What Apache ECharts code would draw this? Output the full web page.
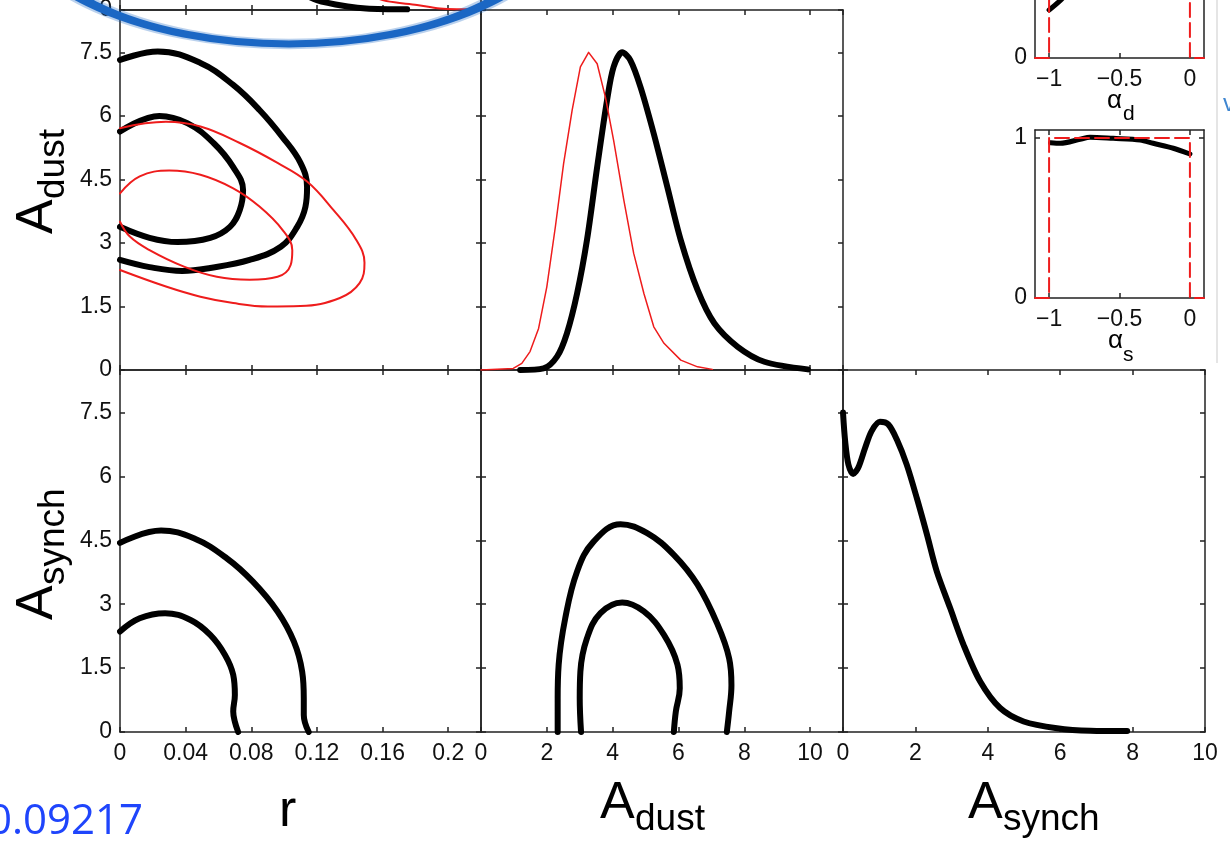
<meta charset="utf-8">
<script src="https://cdn.jsdelivr.net/npm/echarts@6/dist/echarts.min.js"></script>
<div id="main" style="position:absolute;left:0;top:0;width:1230px;height:850px"></div>
<script>
// r 1D posterior (only the tail is visible, panel sits above the picture)
const rTailBlack = [[0.105,0.07],[0.12,0.031],[0.14,0.010],[0.15,0.005],[0.175,0.002]]
const rTailRed = [[0.145,0.07],[0.16,0.031],[0.181,0.016],[0.195,0.005],[0.22,0.002]]

// r vs A_dust contours
const rDustOuter = [[0,7.32],[0.023,7.52],[0.049,7.25],[0.069,6.73],[0.085,6.14],[0.099,5.50],[0.110,4.89],[0.114,4.32],[0.113,3.85],[0.108,3.38],[0.098,2.91],[0.079,2.60],[0.055,2.41],[0.038,2.34],[0.018,2.43],[0,2.60]]
const rDustInner = [[0,5.63],[0.024,6.00],[0.041,5.83],[0.057,5.36],[0.069,4.79],[0.075,4.25],[0.073,3.78],[0.067,3.38],[0.055,3.12],[0.035,3.02],[0.018,3.12],[0,3.38]]
const rDustOuterRed = [[0,5.71],[0.028,5.86],[0.049,5.75],[0.073,5.36],[0.096,4.89],[0.114,4.45],[0.130,3.78],[0.144,3.07],[0.149,2.53],[0.146,2.05],[0.134,1.70],[0.110,1.51],[0.090,1.50],[0.069,1.58],[0.049,1.73],[0.028,1.97],[0,2.36]]
const rDustInnerRed = [[0,4.17],[0.012,4.57],[0.030,4.71],[0.049,4.61],[0.069,4.29],[0.085,3.86],[0.099,3.31],[0.105,2.83],[0.104,2.48],[0.096,2.20],[0.079,2.13],[0.059,2.20],[0.039,2.44],[0.018,2.83],[0.006,3.15],[0,3.50]]

// A_dust 1D
const adustPdf = [[1.19,0],[1.90,0.005],[2.31,0.042],[2.61,0.115],[2.92,0.241],[3.22,0.409],[3.53,0.639],[3.83,0.849],[4.03,0.954],[4.29,1.0],[4.54,0.975],[4.85,0.890],[5.25,0.744],[5.66,0.577],[6.07,0.409],[6.58,0.252],[7.09,0.147],[7.80,0.073],[8.61,0.026],[9.93,0.002]]
const adustPdfRed = [[0,0],[0.98,0.005],[1.24,0.021],[1.49,0.058],[1.75,0.131],[2.00,0.262],[2.26,0.451],[2.51,0.650],[2.77,0.818],[3.02,0.954],[3.27,1.0],[3.53,0.964],[3.78,0.859],[4.03,0.723],[4.34,0.535],[4.64,0.367],[4.95,0.241],[5.25,0.136],[5.56,0.084],[6.07,0.031],[6.58,0.010],[7.03,0.002]]

// r vs A_synch contours
const rSynchOuter = [[0,4.44],[0.025,4.73],[0.045,4.55],[0.065,4.08],[0.081,3.53],[0.096,2.83],[0.106,2.12],[0.111,1.42],[0.112,0.79],[0.112,0.40],[0.115,0]]
const rSynchInner = [[0,2.36],[0.012,2.67],[0.0275,2.79],[0.043,2.63],[0.055,2.28],[0.064,1.81],[0.069,1.34],[0.070,0.87],[0.069,0.48],[0.070,0.24],[0.072,0]]

// A_dust vs A_synch contours
const dustSynchOuter = [[2.33,0],[2.33,0.79],[2.36,1.58],[2.56,2.67],[2.92,3.77],[3.42,4.47],[4.24,4.88],[5.05,4.67],[5.86,4.16],[6.58,3.46],[7.19,2.52],[7.54,1.73],[7.61,1.10],[7.54,0.48],[7.47,0]]
const dustSynchInner = [[3.04,0],[3.00,0.79],[3.02,1.42],[3.22,2.20],[3.63,2.79],[4.29,3.04],[4.95,2.83],[5.56,2.28],[5.97,1.58],[6.04,1.03],[5.92,0.48],[5.86,0]]

// A_synch 1D
const asynchPdf = [[0,1.0],[0.06,0.91],[0.15,0.837],[0.28,0.808],[0.42,0.827],[0.61,0.889],[0.79,0.942],[1.02,0.971],[1.25,0.963],[1.49,0.915],[1.76,0.837],[2.04,0.732],[2.32,0.618],[2.59,0.503],[2.96,0.388],[3.33,0.273],[3.79,0.158],[4.34,0.075],[4.99,0.033],[5.91,0.012],[6.83,0.004],[7.85,0.003]]

// spectral indices insets
const alphaDPdf = [[-1,0.30],[-0.92,0.36],[-0.8,0.47]]
const alphaSPdf = [[-0.99,0.971],[-0.92,0.967],[-0.78,0.992],[-0.71,1.005],[-0.545,0.998],[-0.353,0.988],[-0.261,0.967],[-0.118,0.936],[0,0.90]]
const alphaPrior = [[-1.1,0],[-1,0],[-1,1],[0,1],[0,0],[0.1,0]]

const rTicks = 0.04, dustTicks = 2, ampTicks = 1.5
const alphaTicks = [-1, -0.5, 0]

const FONT = 'Liberation Sans'
const INK = '#111'
const RED = '#ee1c1c'
const AXL = {color: '#222', width: 1.5}
const N1 = 8.5 / 7.5   // 1D panels: peak of 1 sits on the 7.5 tick

const P = [
  {g: [120, -351, 361, 361], x: [0, 0.22, rTicks], y: [0, N1, 0.2], yl: {customValues: [0], margin: 8, showMaxLabel: true}},
  {g: [120, 10, 361, 360], x: [0, 0.22, rTicks], y: [0, 8.5, ampTicks], yl: {margin: 8}},
  {g: [481, 10, 362, 360], x: [0, 11, dustTicks], y: [0, N1, 0.2]},
  {g: [120, 370, 361, 362], x: [0, 0.22, rTicks], y: [0, 8.5, ampTicks], xl: {}, yl: {margin: 8}},
  {g: [481, 370, 362, 362], x: [0, 11, dustTicks], y: [0, 8.5, ampTicks], xl: {}},
  {g: [843, 370, 362, 362], x: [0, 10, dustTicks], y: [0, N1, 0.2], xl: {showMaxLabel: true}},
  {g: [1035, -110, 169, 168], x: [-1.1, 0.1], y: [0, 1.05], xc: alphaTicks, yc: [0, 1], xl: {showMaxLabel: true}, yl: {margin: 8, showMaxLabel: true}},
  {g: [1035, 130, 169, 168], x: [-1.1, 0.1], y: [0, 1.05], xc: alphaTicks, yc: [0, 1], xl: {showMaxLabel: true}, yl: {margin: 8, showMaxLabel: true}},
]

function mk(i, r, cv, lbl, pos) {
  const a = {
    type: 'value', gridIndex: i, position: pos, min: r[0], max: r[1],
    axisLine: {show: true, onZero: false, lineStyle: AXL},
    axisTick: {show: true, inside: true, length: 5, lineStyle: AXL},
    axisLabel: Object.assign({show: !!lbl, color: INK, fontSize: 23, fontFamily: FONT, margin: 10, showMaxLabel: false}, lbl || {}),
    splitLine: {show: false},
  }
  if (r[2]) a.interval = r[2]
  if (cv) {
    a.axisTick.customValues = cv
    a.axisLabel.customValues = cv
    a.axisLabel.formatter = v => v < 0 ? '\u2212' + Math.abs(v) : String(v)
  }
  return a
}

const grid = [], xAxis = [], yAxis = []
P.forEach((p, i) => {
  grid.push({left: p.g[0], top: p.g[1], width: p.g[2], height: p.g[3], containLabel: false, outerBoundsMode: 'none'})
  xAxis[i] = mk(i, p.x, p.xc, p.xl, 'bottom')
  yAxis[i] = mk(i, p.y, p.yc, p.yl, 'left')
  xAxis[i + 8] = mk(i, p.x, p.xc, null, 'top')
  yAxis[i + 8] = mk(i, p.y, p.yc, null, 'right')
})

const S = (i, data, color, width, smooth, dash) => ({
  type: 'line', xAxisIndex: i, yAxisIndex: i, data, symbol: 'none', smooth,
  lineStyle: {color, width, type: dash || 'solid', cap: 'round', join: 'round'},
  silent: true, z: color === RED ? 3 : 2,
})

const series = [
  S(0, rTailBlack, '#000', 6, 0.3), S(0, rTailRed, RED, 2, 0.3),
  S(1, rDustOuter, '#000', 6, 0.4), S(1, rDustInner, '#000', 6, 0.4),
  S(1, rDustOuterRed, RED, 2, 0.4), S(1, rDustInnerRed, RED, 2, 0.4),
  S(2, adustPdf, '#000', 6, 0.3), S(2, adustPdfRed, RED, 1.5, false),
  S(3, rSynchOuter, '#000', 6, 0.4), S(3, rSynchInner, '#000', 6, 0.4),
  S(4, dustSynchOuter, '#000', 6, 0.4), S(4, dustSynchInner, '#000', 6, 0.4),
  S(5, asynchPdf, '#000', 6, 0.3),
  S(6, alphaPrior, RED, 2, false, [14, 6]), S(6, alphaDPdf, '#000', 5, 0.3),
  S(7, alphaPrior, RED, 2, false, [14, 6]), S(7, alphaSPdf, '#000', 5, 0.3),
]

const t = (text, x, y, size, o) => Object.assign({
  type: 'text', x, y, z: 50,
  style: {text, fontSize: size, fontFamily: FONT, fill: '#000', align: 'left', verticalAlign: 'middle'},
}, o || {})

const ring = (stroke, lineWidth, z) => ({
  type: 'circle', x: 289, y: -94, scaleY: 138 / 280, z, shape: {cx: 0, cy: 0, r: 280},
  style: {fill: 'none', stroke, lineWidth, strokeNoScale: true},
})

const graphic = [
  t('r', 279, 812, 52),
  t('A', 600, 804, 52), t('dust', 635, 820, 37),
  t('A', 968, 804, 52), t('synch', 1003, 820, 37),
  t('A', 38, 234, 52, {rotation: Math.PI / 2}), t('dust', 54, 199, 37, {rotation: Math.PI / 2}),
  t('A', 38, 620, 52, {rotation: Math.PI / 2}), t('synch', 54, 585, 37, {rotation: Math.PI / 2}),
  t('\u03b1', 1107, 101, 26), t('d', 1123, 114, 21),
  t('\u03b1', 1108, 341, 26), t('s', 1123, 355, 21),
  {type: 'text', x: 143, y: 822, z: 50, style: {text: '0.09217', fontSize: 42, fontFamily: 'Open Sans', fill: '#1f45fc', align: 'right', verticalAlign: 'middle'}},
  {type: 'line', z: 1, shape: {x1: 1217, y1: 0, x2: 1217, y2: 363}, style: {stroke: '#dcdcdc', lineWidth: 1.5}},
  {type: 'text', x: 1223, y: 104, z: 50, style: {text: 'v', fontSize: 24, fontFamily: FONT, fill: '#3f86d0', align: 'left', verticalAlign: 'middle'}},
  // hand-drawn blue ring around the r panel
  ring('rgba(27,103,196,0.3)', 21, 100),
  ring('#1b67c4', 14, 101),
]

const chart = echarts.init(document.getElementById('main'))
chart.setOption({backgroundColor: '#fff', animation: false, grid, xAxis, yAxis, series, graphic})
</script>
